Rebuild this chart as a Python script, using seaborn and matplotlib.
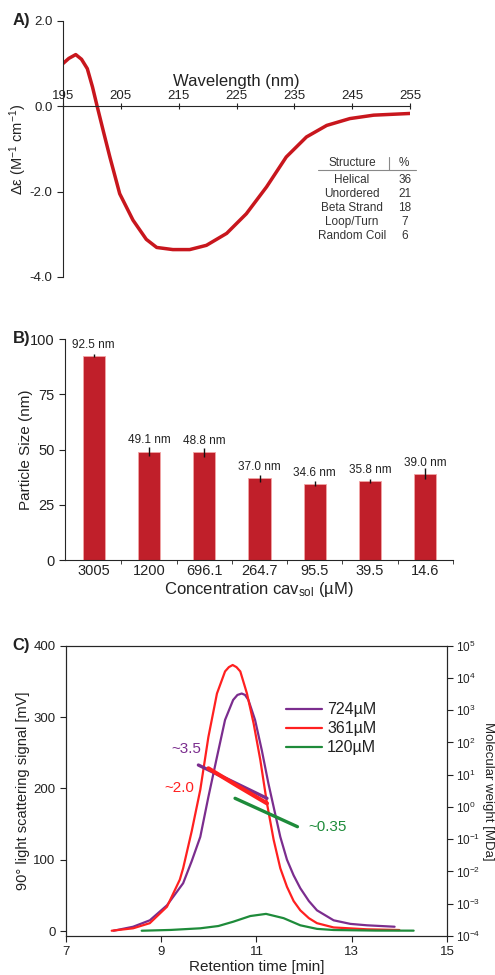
import matplotlib
matplotlib.use("Agg")
import matplotlib.pyplot as plt
import seaborn as sns
import numpy as np

# Panel A - CD spectrum
wavelength = [195, 196, 197.2, 198.2, 199.2, 200.1, 200.9, 202.0, 203.1, 204.8, 207.1, 209.4,
              211.2, 214.0, 216.9, 219.8, 223.3, 226.7, 230.2, 233.6, 237.1, 240.6, 244.6,
              248.7, 255]
delta_eps = [1.0, 1.12, 1.21, 1.1, 0.88, 0.45, 0.0, -0.6, -1.19, -2.05, -2.67, -3.12,
             -3.31, -3.36, -3.36, -3.26, -2.98, -2.52, -1.89, -1.19, -0.72, -0.45, -0.29,
             -0.21, -0.17]
structures = ["Helical", "Unordered", "Beta Strand", "Loop/Turn", "Random Coil"]
percents = [36, 21, 18, 7, 6]

# Panel B - particle size
concentrations = ["3005", "1200", "696.1", "264.7", "95.5", "39.5", "14.6"]
particle_size = [92.5, 49.1, 48.8, 37.0, 34.6, 35.8, 39.0]
size_err = [0.6, 2.0, 2.0, 1.5, 1.2, 1.0, 2.5]

# Panel C - light scattering
t_724 = [8.0, 8.41, 8.76, 9.12, 9.46, 9.64, 9.82, 9.99, 10.17, 10.34, 10.51, 10.6, 10.69,
         10.76, 10.83, 10.97, 11.11, 11.25, 11.39, 11.50, 11.64, 11.78, 11.92, 12.1, 12.27,
         12.62, 12.97, 13.32, 13.9]
s_724 = [0.4, 6, 15, 36, 67, 98, 132, 188, 244, 296, 324, 331, 333, 331, 324, 296, 254, 207,
         165, 132, 100, 78, 60, 42, 29, 15, 10, 8, 6]
t_361 = [7.96, 8.41, 8.76, 9.12, 9.39, 9.46, 9.64, 9.82, 9.99, 10.17, 10.34, 10.42, 10.50,
         10.58, 10.66, 10.80, 10.94, 11.08, 11.22, 11.36, 11.50, 11.64, 11.78, 11.92, 12.1,
         12.27, 12.62, 13.32, 14.0]
s_361 = [0.4, 3.8, 11, 34, 72, 88, 140, 198, 272, 333, 364, 370, 373, 370, 364, 333, 291, 240,
         179, 128, 88, 62, 42, 29, 18, 11, 5, 2.4, 1.4]
t_120 = [8.59, 9.2, 9.82, 10.2, 10.51, 10.87, 11.2, 11.57, 11.92, 12.27, 12.62, 13.5, 14.3]
s_120 = [0.4, 1.5, 3.8, 7, 13, 21, 24, 18, 8, 3, 1.4, 0.6, 0.5]

mw_t_724 = [9.78, 10.51, 11.22]
mw_724 = [20, 6.0, 1.86]
mw_t_361 = [9.99, 10.6, 11.22]
mw_361 = [15.8, 4.5, 1.3]
mw_t_120 = [10.55, 11.22, 11.86]
mw_120 = [1.86, 0.66, 0.245]

sns.set_style("ticks")
plt.rcParams["font.family"] = ["Liberation Sans", "DejaVu Sans"]
plt.rcParams["mathtext.default"] = "regular"
plt.rcParams["text.color"] = "#222222"
plt.rcParams["axes.labelcolor"] = "#222222"
plt.rcParams["xtick.color"] = "#222222"
plt.rcParams["ytick.color"] = "#222222"

fig = plt.figure(figsize=(4.95, 9.75), dpi=100)

# ---------- A ----------
ax1 = fig.add_axes([0.1273, 0.716, 0.701, 0.2626])
sns.lineplot(x=wavelength, y=delta_eps, ax=ax1, color="#C8161D", lw=2.5)
ax1.set_xlim(195, 255)
ax1.set_ylim(-4, 2)
ax1.spines["top"].set_position(("data", 0))
ax1.spines["bottom"].set_visible(False)
ax1.spines["right"].set_visible(False)
ax1.xaxis.tick_top()
ax1.xaxis.set_label_position("top")
ax1.set_xticks(range(195, 256, 10))
ax1.set_yticks([2, 0, -2, -4])
ax1.set_yticklabels(["2.0", "0.0", "-2.0", "-4.0"])
ax1.tick_params(axis="x", direction="inout", length=4, pad=1, labelsize=9.5)
ax1.tick_params(axis="y", direction="out", length=4, labelsize=9.5)
ax1.set_xlabel("Wavelength (nm)", fontsize=12, labelpad=3)
ax1.set_ylabel("Δε (M$^{-1}$ cm$^{-1}$)", fontsize=10.5)
ax1.yaxis.set_label_coords(-0.098, 0.5)

ax1.text(0.833, 0.445, "Structure", transform=ax1.transAxes, ha="center", va="center",
         fontsize=8.5, color="#333333")
ax1.text(0.983, 0.445, "%", transform=ax1.transAxes, ha="center", va="center",
         fontsize=8.5, color="#333333")
ax1.plot([0.735, 1.017], [0.418, 0.418], transform=ax1.transAxes, color="#888888",
         lw=0.8, clip_on=False)
ax1.plot([0.939, 0.939], [0.418, 0.47], transform=ax1.transAxes, color="#888888",
         lw=0.8, clip_on=False)
row_y = [0.379, 0.324, 0.270, 0.215, 0.160]
for name, pct, yy in zip(structures, percents, row_y):
    ax1.text(0.833, yy, name, transform=ax1.transAxes, ha="center", va="center",
             fontsize=8.5, color="#333333")
    ax1.text(0.985, yy, str(pct), transform=ax1.transAxes, ha="center", va="center",
             fontsize=8.5, color="#333333")
fig.text(0.025, 0.979, "A)", fontsize=12, fontweight="bold", va="center")

# ---------- B ----------
ax2 = fig.add_axes([0.1313, 0.4256, 0.7838, 0.2267])
sns.barplot(x=concentrations, y=particle_size, ax=ax2, color="#C01F2A", width=0.4,
            saturation=1, edgecolor="#F2A5A5", linewidth=0.6, errorbar=None)
xpos = np.arange(len(concentrations))
ax2.errorbar(xpos, particle_size, yerr=size_err, fmt="none", ecolor="#111111",
             elinewidth=1.0, capsize=0)
for xp, v in zip(xpos, particle_size):
    ax2.text(xp, v + 5, f"{v:.1f} nm", ha="center", va="center", fontsize=8.5)
ax2.set_xlim(-0.52, 6.49)
ax2.set_ylim(0, 100)
ax2.set_yticks([0, 25, 50, 75, 100])
ax2.set_xticks(xpos + 0.5, minor=True)
ax2.tick_params(axis="x", which="major", length=0, labelsize=10.5, pad=3)
ax2.tick_params(axis="x", which="minor", length=3, direction="out")
ax2.tick_params(axis="y", direction="out", length=4, labelsize=10.5)
sns.despine(ax=ax2)
ax2.set_ylabel("Particle Size (nm)", fontsize=11)
ax2.yaxis.set_label_coords(-0.082, 0.5)
ax2.set_xlabel("Concentration cav$_{sol}$ (µM)", fontsize=12, labelpad=1)
fig.text(0.025, 0.653, "B)", fontsize=12, fontweight="bold", va="center")

# ---------- C ----------
ax3 = fig.add_axes([0.1333, 0.04, 0.7697, 0.2977])
sns.lineplot(x=t_724, y=s_724, ax=ax3, color="#7B2D8E", lw=1.6, label="724µM")
sns.lineplot(x=t_361, y=s_361, ax=ax3, color="#FF2020", lw=1.6, label="361µM")
sns.lineplot(x=t_120, y=s_120, ax=ax3, color="#1E8B3A", lw=1.6, label="120µM")
ax3.set_xlim(7, 15)
ax3.set_ylim(-7, 400)
ax3.set_xticks([7, 9, 11, 13, 15])
ax3.set_yticks([0, 100, 200, 300, 400])
ax3.tick_params(direction="out", length=4, labelsize=9.5)
ax3.set_xlabel("Retention time [min]", fontsize=11, labelpad=1)
ax3.set_ylabel("90° light scattering signal [mV]", fontsize=10.5)
ax3.yaxis.set_label_coords(-0.094, 0.5)
ax3.legend(loc="upper left", bbox_to_anchor=(0.5575, 0.833), frameon=False, fontsize=11.5,
           handlelength=2.25, handletextpad=0.3, labelspacing=0.25, borderpad=0)
ax3.text(9.52, 255, "~3.5", color="#7B2D8E", fontsize=11, ha="center", va="center")
ax3.text(9.39, 201, "~2.0", color="#FF2020", fontsize=11, ha="center", va="center")
ax3.text(12.49, 146, "~0.35", color="#1E8B3A", fontsize=11, ha="center", va="center")

ax4 = ax3.twinx()
sns.lineplot(x=mw_t_724, y=mw_724, ax=ax4, color="#7B2D8E", lw=2.4)
sns.lineplot(x=mw_t_361, y=mw_361, ax=ax4, color="#FF2020", lw=3.0)
sns.lineplot(x=mw_t_120, y=mw_120, ax=ax4, color="#1E8B3A", lw=2.4)
ax4.set_yscale("log")
ax4.set_ylim(1e-4, 1e5)
ax4.set_yticks([10.0 ** k for k in range(-4, 6)])
ax4.minorticks_off()
ax4.tick_params(direction="out", length=4, pad=2.5, labelsize=8.5)
ax4.set_ylabel("Molecular weight [MDa]", fontsize=9.5, rotation=270, va="bottom")
ax4.yaxis.set_label_coords(1.092, 0.5)
ax3.set_xlim(7, 15)
fig.text(0.025, 0.338, "C)", fontsize=12, fontweight="bold", va="center")

fig.savefig("out.png", dpi=100)
